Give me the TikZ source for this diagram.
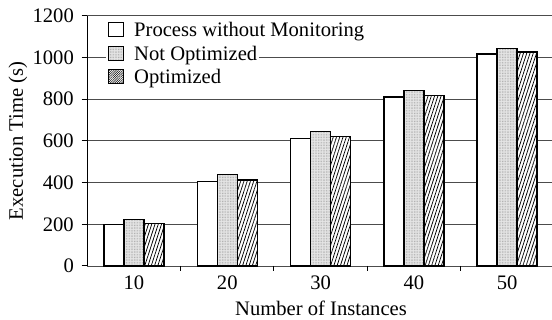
\documentclass[tikz,border=0pt]{standalone}
\usepackage{fontspec}
\setmainfont{Liberation Serif}
\usetikzlibrary{patterns.meta}
\begin{document}
\begin{tikzpicture}[x=1pt,y=-1pt,
  font=\fontsize{20.6}{24}\selectfont,
  gridline/.style={black!70, line width=0.9pt},
  axisline/.style={black, line width=1pt},
  barbase/.style={draw=black, line width=1.4pt},
  plainbar/.style={barbase, fill=white},
  speckbar/.style={barbase, preaction={fill=black!10},
    pattern={Dots[distance=1.6pt, radius=0.35pt]}, pattern color=black!45},
  hatchbar/.style={barbase, preaction={fill=white},
    pattern={Lines[angle=72, distance=3.1pt, line width=0.75pt]}, pattern color=black},
  legbox/.style={draw=black, line width=1pt},
  legtext/.style={anchor=base west, fill=white, inner sep=2pt},
  ylab/.style={anchor=east, inner sep=0pt},
  xlab/.style={anchor=north, inner sep=0pt}]
\useasboundingbox (0,0) rectangle (552,320);

% data scope: x in pt, y in seconds, origin on the zero line
\begin{scope}[yshift=-266pt, y=0.2086pt]
  % horizontal grid lines and y ticks
  \foreach \v in {0,200,...,1200} {
    \draw[gridline] (87.3,\v) -- (552,\v);
    \draw[axisline] (81.5,\v) -- (87.3,\v);
    \node[ylab] (y\v) at (74,\v) {\v};
  }
  \draw[axisline] (87.3,0) -- (87.3,1200);
  % category separators on the x axis
  \foreach \i in {1,...,4}
    \draw[axisline] ({87.3+93.3*\i},0) -- ({87.3+93.3*\i},-24);
\end{scope}

% legend
\node[legtext] (leg1) at (132,37) {Process without Monitoring};
\node[legtext] (leg2) at (132,61) {Not Optimized};
\node[legtext] (leg3) at (132,84) {Optimized};
\fill[white] (106,44) rectangle (leg2.south west);
\draw[legbox, fill=white] (108.5,23) rectangle (123.5,37);
\draw[legbox, preaction={fill=black!10},
  pattern={Dots[distance=1.6pt, radius=0.35pt]}, pattern color=black!45]
  (108.5,47) rectangle (123.5,61);
\draw[legbox, preaction={fill=white},
  pattern={Lines[angle=45, distance=1.6pt, line width=0.5pt]}, pattern color=black]
  (108.5,70) rectangle (123.5,84);

% bars
\begin{scope}[yshift=-266pt, y=0.2086pt]
  \foreach \c/\a/\b/\d [count=\i] in
      {10/200/222/203, 20/406/438/413, 30/610/646/620,
       40/810/842/816, 50/1017/1044/1025} {
    \pgfmathsetmacro\xc{87.3+93.3*(\i-0.5)}
    \draw[plainbar] (\xc-30,0) rectangle (\xc-10,\a);
    \draw[speckbar] (\xc-10,0) rectangle (\xc+10,\b);
    \draw[hatchbar] (\xc+10,0) rectangle (\xc+30,\d);
    \node[xlab] (x\c) at (\xc,-48) {\c};
  }
\end{scope}

% axis titles
\node[anchor=base] (xtitle) at (321,315.5) {Number of Instances};
\node[anchor=base, rotate=90] (ytitle) at (23,141) {Execution Time (s)};
\end{tikzpicture}
\end{document}
